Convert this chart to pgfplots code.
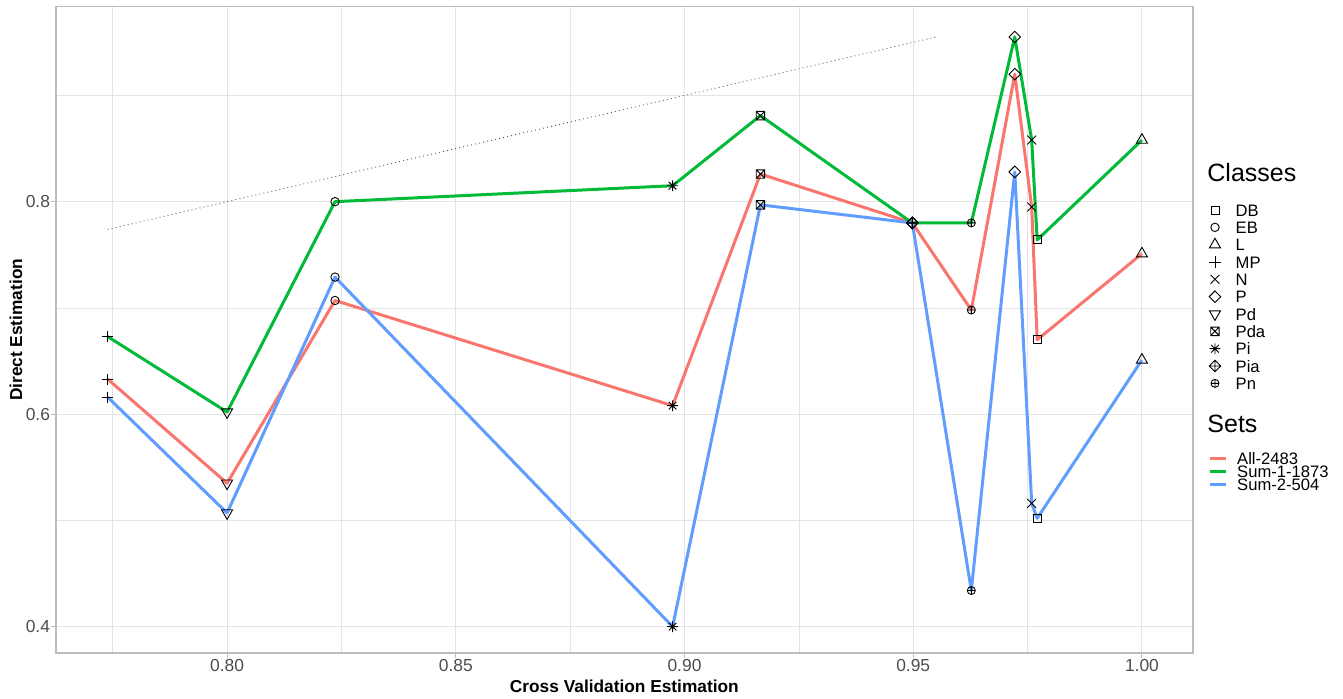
\documentclass[border=0pt]{standalone}
\usepackage{fontspec}
\setmainfont{Liberation Sans}
\usepackage{pgfplots}
\usepackage{pgfplotstable}
\pgfplotsset{compat=1.18}

\definecolor{ggred}{HTML}{F8766D}
\definecolor{gggreen}{HTML}{00BA38}
\definecolor{ggblue}{HTML}{619CFF}
\definecolor{gridc}{HTML}{E4E4E4}
\definecolor{borderc}{HTML}{BDBDBD}
\definecolor{ticklab}{HTML}{4D4D4D}
\definecolor{dotc}{HTML}{555555}

\pgfdeclareplotmark{ggsquare}{%
  \pgfpathrectangle{\pgfqpoint{-\pgfplotmarksize}{-\pgfplotmarksize}}{\pgfqpoint{2\pgfplotmarksize}{2\pgfplotmarksize}}%
  \pgfusepathqstroke}
\pgfdeclareplotmark{ggcircle}{%
  \pgfpathcircle{\pgfpointorigin}{\pgfplotmarksize}\pgfusepathqstroke}
\pgfdeclareplotmark{ggtri}{%
  \pgfpathmoveto{\pgfqpoint{0pt}{\pgfplotmarksize}}%
  \pgfpathlineto{\pgfqpoint{0.866\pgfplotmarksize}{-0.5\pgfplotmarksize}}%
  \pgfpathlineto{\pgfqpoint{-0.866\pgfplotmarksize}{-0.5\pgfplotmarksize}}%
  \pgfpathclose\pgfusepathqstroke}
\pgfdeclareplotmark{ggtridown}{%
  \pgfpathmoveto{\pgfqpoint{0pt}{-\pgfplotmarksize}}%
  \pgfpathlineto{\pgfqpoint{0.866\pgfplotmarksize}{0.5\pgfplotmarksize}}%
  \pgfpathlineto{\pgfqpoint{-0.866\pgfplotmarksize}{0.5\pgfplotmarksize}}%
  \pgfpathclose\pgfusepathqstroke}
\pgfdeclareplotmark{ggplus}{%
  \pgfpathmoveto{\pgfqpoint{-\pgfplotmarksize}{0pt}}\pgfpathlineto{\pgfqpoint{\pgfplotmarksize}{0pt}}%
  \pgfpathmoveto{\pgfqpoint{0pt}{-\pgfplotmarksize}}\pgfpathlineto{\pgfqpoint{0pt}{\pgfplotmarksize}}%
  \pgfusepathqstroke}
\pgfdeclareplotmark{ggx}{%
  \pgfpathmoveto{\pgfqpoint{-\pgfplotmarksize}{-\pgfplotmarksize}}\pgfpathlineto{\pgfqpoint{\pgfplotmarksize}{\pgfplotmarksize}}%
  \pgfpathmoveto{\pgfqpoint{-\pgfplotmarksize}{\pgfplotmarksize}}\pgfpathlineto{\pgfqpoint{\pgfplotmarksize}{-\pgfplotmarksize}}%
  \pgfusepathqstroke}
\pgfdeclareplotmark{ggdiamond}{%
  \pgfpathmoveto{\pgfqpoint{\pgfplotmarksize}{0pt}}%
  \pgfpathlineto{\pgfqpoint{0pt}{\pgfplotmarksize}}%
  \pgfpathlineto{\pgfqpoint{-\pgfplotmarksize}{0pt}}%
  \pgfpathlineto{\pgfqpoint{0pt}{-\pgfplotmarksize}}%
  \pgfpathclose\pgfusepathqstroke}
\pgfdeclareplotmark{ggboxx}{%
  \pgfpathrectangle{\pgfqpoint{-\pgfplotmarksize}{-\pgfplotmarksize}}{\pgfqpoint{2\pgfplotmarksize}{2\pgfplotmarksize}}%
  \pgfpathmoveto{\pgfqpoint{-\pgfplotmarksize}{-\pgfplotmarksize}}\pgfpathlineto{\pgfqpoint{\pgfplotmarksize}{\pgfplotmarksize}}%
  \pgfpathmoveto{\pgfqpoint{-\pgfplotmarksize}{\pgfplotmarksize}}\pgfpathlineto{\pgfqpoint{\pgfplotmarksize}{-\pgfplotmarksize}}%
  \pgfusepathqstroke}
\pgfdeclareplotmark{ggstar}{%
  \pgfpathmoveto{\pgfqpoint{-\pgfplotmarksize}{0pt}}\pgfpathlineto{\pgfqpoint{\pgfplotmarksize}{0pt}}%
  \pgfpathmoveto{\pgfqpoint{0pt}{-\pgfplotmarksize}}\pgfpathlineto{\pgfqpoint{0pt}{\pgfplotmarksize}}%
  \pgfpathmoveto{\pgfqpoint{-0.707\pgfplotmarksize}{-0.707\pgfplotmarksize}}\pgfpathlineto{\pgfqpoint{0.707\pgfplotmarksize}{0.707\pgfplotmarksize}}%
  \pgfpathmoveto{\pgfqpoint{-0.707\pgfplotmarksize}{0.707\pgfplotmarksize}}\pgfpathlineto{\pgfqpoint{0.707\pgfplotmarksize}{-0.707\pgfplotmarksize}}%
  \pgfusepathqstroke}
\pgfdeclareplotmark{ggdiamondplus}{%
  \pgfpathmoveto{\pgfqpoint{\pgfplotmarksize}{0pt}}%
  \pgfpathlineto{\pgfqpoint{0pt}{\pgfplotmarksize}}%
  \pgfpathlineto{\pgfqpoint{-\pgfplotmarksize}{0pt}}%
  \pgfpathlineto{\pgfqpoint{0pt}{-\pgfplotmarksize}}%
  \pgfpathclose
  \pgfpathmoveto{\pgfqpoint{-\pgfplotmarksize}{0pt}}\pgfpathlineto{\pgfqpoint{\pgfplotmarksize}{0pt}}%
  \pgfpathmoveto{\pgfqpoint{0pt}{-\pgfplotmarksize}}\pgfpathlineto{\pgfqpoint{0pt}{\pgfplotmarksize}}%
  \pgfusepathqstroke}
\pgfdeclareplotmark{ggcircleplus}{%
  \pgfpathcircle{\pgfpointorigin}{\pgfplotmarksize}%
  \pgfpathmoveto{\pgfqpoint{-\pgfplotmarksize}{0pt}}\pgfpathlineto{\pgfqpoint{\pgfplotmarksize}{0pt}}%
  \pgfpathmoveto{\pgfqpoint{0pt}{-\pgfplotmarksize}}\pgfpathlineto{\pgfqpoint{0pt}{\pgfplotmarksize}}%
  \pgfusepathqstroke}

\tikzset{
  mDB/.style={mark=ggsquare,mark size=2pt,draw=black},
  mEB/.style={mark=ggcircle,mark size=2.1pt,draw=black},
  mL/.style={mark=ggtri,mark size=3.2pt,draw=black},
  mMP/.style={mark=ggplus,mark size=2.8pt,draw=black},
  mN/.style={mark=ggx,mark size=2.2pt,draw=black},
  mP/.style={mark=ggdiamond,mark size=2.9pt,draw=black},
  mPd/.style={mark=ggtridown,mark size=3.2pt,draw=black},
  mPda/.style={mark=ggboxx,mark size=2.1pt,draw=black},
  mPi/.style={mark=ggstar,mark size=2.7pt,draw=black},
  mPia/.style={mark=ggdiamondplus,mark size=2.9pt,draw=black},
  mPn/.style={mark=ggcircleplus,mark size=2pt,draw=black},
}
\pgfplotsset{
  ggclasses/.style={only marks, scatter, scatter src=explicit symbolic,
    line width=0.45pt, forget plot,
    scatter/classes={DB={mDB},EB={mEB},L={mL},MP={mMP},N={mN},P={mP},
      Pd={mPd},Pda={mPda},Pi={mPi},Pia={mPia},Pn={mPn}}},
}

\pgfplotstableread{
x y class
0.7739 0.633 MP
0.8000 0.535 Pd
0.8236 0.707 EB
0.8974 0.608 Pi
0.9166 0.826 Pda
0.9498 0.780 Pia
0.9627 0.698 Pn
0.9722 0.920 P
0.9759 0.795 N
0.9771 0.670 DB
1.0000 0.751 L
}\tabAll

\pgfplotstableread{
x y class
0.7739 0.673 MP
0.8000 0.602 Pd
0.8236 0.800 EB
0.8974 0.815 Pi
0.9166 0.881 Pda
0.9498 0.780 Pia
0.9627 0.780 Pn
0.9722 0.955 P
0.9759 0.858 N
0.9771 0.764 DB
1.0000 0.858 L
}\tabSumA

\pgfplotstableread{
x y class
0.7739 0.616 MP
0.8000 0.507 Pd
0.8236 0.729 EB
0.8974 0.400 Pi
0.9166 0.797 Pda
0.9498 0.780 Pia
0.9627 0.434 Pn
0.9722 0.828 P
0.9759 0.516 N
0.9771 0.502 DB
1.0000 0.651 L
}\tabSumB

\begin{document}
\begin{tikzpicture}
\begin{axis}[
  name=main,
  scale only axis, width=568.35pt, height=323.15pt,
  xmin=0.7626, xmax=1.0111, ymin=0.3752, ymax=0.9835,
  clip mode=individual,
  axis line style={draw=borderc, line width=0.8pt},
  xtick={0.80,0.85,0.90,0.95,1.00},
  xticklabels={0.80,0.85,0.90,0.95,1.00},
  ytick={0.4,0.6,0.8},
  yticklabels={0.4,0.6,0.8},
  minor xtick={0.775,0.825,0.875,0.925,0.975},
  minor ytick={0.5,0.7,0.9},
  grid=both,
  major grid style={draw=gridc, line width=0.55pt},
  minor grid style={draw=gridc, line width=0.35pt},
  tick align=outside, xtick pos=bottom, ytick pos=left,
  major tick length=2.5pt, minor tick length=0pt,
  tick style={draw=borderc, line width=0.5pt},
  ticklabel style={font=\fontsize{8.7}{10}\selectfont, text=ticklab, inner sep=0pt},
  xticklabel style={anchor=north, yshift=-0.6pt},
  yticklabel style={anchor=east, xshift=-0.3pt},
  xlabel={\bfseries Cross Validation Estimation},
  ylabel={\bfseries Direct Estimation},
  label style={font=\fontsize{8.65}{10}\selectfont, inner sep=0pt},
  xlabel style={at={(axis description cs:0.5,-0.0511)}, anchor=center},
  ylabel style={at={(axis description cs:-0.0352,0.5)}, anchor=center},
  legend image code/.code={\path[draw=none,fill=none] (-5pt,-4pt) rectangle (10.35pt,4pt); \draw[#1] plot coordinates {(0pt,0pt)};},
  legend cell align=left,
  legend style={at={(axis description cs:1.0108,0.6978)}, anchor=north west,
    draw=none, fill=none, inner sep=0pt, outer sep=0pt,
    row sep=0.667pt, column sep=0pt,
    nodes={inner sep=0pt, text height=6.2pt, text depth=0pt, font=\fontsize{8.3}{9}\selectfont}},
]
% identity reference line
\addplot[dotc, line width=0.45pt, dash pattern=on 0.45pt off 1.6pt, forget plot] coordinates {(0.7739,0.7739) (0.955,0.955)};

\addplot[ggred, line width=1.5pt, line join=round, no marks, forget plot] table[x=x,y=y] {\tabAll};
\addplot[gggreen, line width=1.5pt, line join=round, no marks, forget plot] table[x=x,y=y] {\tabSumA};
\addplot[ggblue, line width=1.5pt, line join=round, no marks, forget plot] table[x=x,y=y] {\tabSumB};

\addplot[ggclasses] table[x=x,y=y,meta=class] {\tabAll};
\addplot[ggclasses] table[x=x,y=y,meta=class] {\tabSumA};
\addplot[ggclasses] table[x=x,y=y,meta=class] {\tabSumB};

\addlegendimage{mDB, line width=0.45pt}\addlegendentry{DB}
\addlegendimage{mEB, line width=0.45pt}\addlegendentry{EB}
\addlegendimage{mL, line width=0.45pt}\addlegendentry{L}
\addlegendimage{mMP, line width=0.45pt}\addlegendentry{MP}
\addlegendimage{mN, line width=0.45pt}\addlegendentry{N}
\addlegendimage{mP, line width=0.45pt}\addlegendentry{P}
\addlegendimage{mPd, line width=0.45pt}\addlegendentry{Pd}
\addlegendimage{mPda, line width=0.45pt}\addlegendentry{Pda}
\addlegendimage{mPi, line width=0.45pt}\addlegendentry{Pi}
\addlegendimage{mPia, line width=0.45pt}\addlegendentry{Pia}
\addlegendimage{mPn, line width=0.45pt}\addlegendentry{Pn}

\node[anchor=base west, inner sep=0pt, font=\fontsize{12.5}{14}\selectfont] at (axis description cs:1.0126,0.7292) {Classes};
\node[anchor=base west, inner sep=0pt, font=\fontsize{12.5}{14}\selectfont] at (axis description cs:1.0126,0.3412) {Sets};
\end{axis}

\begin{axis}[
  scale only axis, width=568.35pt, height=323.15pt,
  xmin=0, xmax=1, ymin=0, ymax=1, hide axis,
  legend image code/.code={\draw[#1] (0pt,0pt) -- (8pt,0pt); \path[draw=none,fill=none] (0pt,-3.1pt) rectangle (13.85pt,3.1pt);},
  legend cell align=left,
  legend style={at={(axis description cs:1.01346,0.31131)}, anchor=north west,
    draw=none, fill=none, inner sep=0pt, outer sep=0pt,
    row sep=0.467pt, column sep=0pt,
    nodes={inner sep=0pt, text height=6.2pt, text depth=0pt, font=\fontsize{8.3}{9}\selectfont}},
]
\addlegendimage{ggred, line width=1.5pt}\addlegendentry{All-2483}
\addlegendimage{gggreen, line width=1.5pt}\addlegendentry{Sum-1-1873}
\addlegendimage{ggblue, line width=1.5pt}\addlegendentry{Sum-2-504}
\end{axis}

\pgfresetboundingbox
\path ([shift={(-28pt,-22.5pt)}]main.south west) rectangle ++(671.5pt,349pt);
\end{tikzpicture}
\end{document}
